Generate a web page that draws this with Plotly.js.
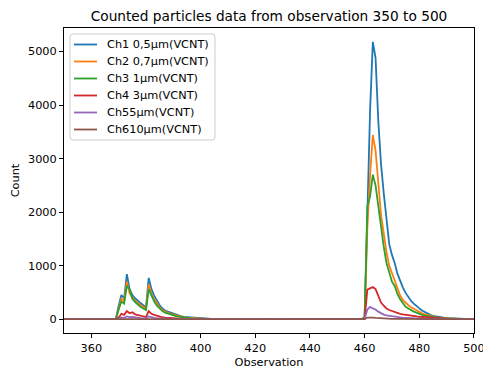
<!DOCTYPE html>
<html>
<head>
<meta charset="utf-8">
<script src="https://cdn.plot.ly/plotly-3.0.1.min.js"></script>
<style>html,body{margin:0;padding:0;background:#fff}#chart{width:483px;height:372px}</style>
</head>
<body>
<div id="chart"></div>
<script>
// Observation indices 350..500
const observations = [];
for (let k = 350; k <= 500; k++) observations.push(k);

const seriesNames = ["Ch1 0,5µm(VCNT)", "Ch2 0,7µm(VCNT)", "Ch3 1µm(VCNT)", "Ch4 3µm(VCNT)", "Ch55µm(VCNT)", "Ch610µm(VCNT)"];

const ch1 = [
  0,0,0,0,0,0,0,0,0,0,
  0,0,0,0,0,0,0,0,0,5,
  250,450,390,840,560,450,390,340,300,260,
  220,770,560,440,340,260,200,160,140,120,
  100,80,65,50,40,35,30,25,20,15,
  10,8,6,5,4,3,2,2,2,2,
  2,2,2,2,2,2,2,2,2,2,
  2,2,2,2,2,2,2,2,2,2,
  2,2,2,2,2,2,2,2,2,2,
  2,2,2,2,2,2,2,2,2,2,
  2,2,2,2,2,2,2,2,2,5,
  40,2000,3900,5180,4880,3700,2900,2350,1850,1400,
  1200,1050,850,710,590,490,410,340,290,240,
  200,160,130,100,80,62,50,40,32,26,
  20,16,13,10,8,6,5,4,3,3,
  2
];
const ch2 = [
  0,0,0,0,0,0,0,0,0,0,
  0,0,0,0,0,0,0,0,0,5,
  200,380,340,700,480,400,340,300,260,230,
  190,650,470,370,290,220,170,140,120,100,
  85,70,55,45,35,30,25,20,15,12,
  8,6,5,4,3,2,1,1,1,1,
  1,1,1,1,1,1,1,1,1,1,
  1,1,1,1,1,1,1,1,1,1,
  1,1,1,1,1,1,1,1,1,1,
  1,1,1,1,1,1,1,1,1,1,
  1,1,1,1,1,1,1,1,1,4,
  30,1700,2700,3440,3150,2500,1950,1600,1250,1000,
  850,740,560,440,360,300,260,220,190,165,
  140,110,90,75,60,48,38,30,25,20,
  15,12,10,8,6,5,4,3,2,2,
  1
];
const ch3 = [
  0,0,0,0,0,0,0,0,0,0,
  0,0,0,0,0,0,0,0,0,4,
  180,330,290,620,560,380,320,270,230,200,
  170,560,430,330,250,190,150,120,100,85,
  70,55,45,35,28,22,18,14,10,8,
  6,5,4,3,2,2,1,1,1,1,
  1,1,1,1,1,1,1,1,1,1,
  1,1,1,1,1,1,1,1,1,1,
  1,1,1,1,1,1,1,1,1,1,
  1,1,1,1,1,1,1,1,1,1,
  1,1,1,1,1,1,1,1,1,3,
  25,2100,2300,2700,2500,2100,1700,1350,1050,850,
  700,620,470,370,290,230,200,165,140,120,
  95,80,65,55,45,37,30,25,20,16,
  12,10,8,6,5,4,3,2,2,1,
  1
];
const ch4 = [
  0,0,0,0,0,0,0,0,0,0,
  0,0,0,0,0,0,0,0,0,2,
  30,100,80,150,110,130,90,80,60,50,
  40,150,100,80,60,45,35,30,25,20,
  15,12,10,8,6,5,4,3,3,2,
  2,1,1,1,1,1,0,0,0,0,
  0,0,0,0,0,0,0,0,0,0,
  0,0,0,0,0,0,0,0,0,0,
  0,0,0,0,0,0,0,0,0,0,
  0,0,0,0,0,0,0,0,0,0,
  0,0,0,0,0,0,0,0,0,2,
  10,550,580,600,560,420,310,250,200,170,
  150,130,110,100,90,80,70,62,55,50,
  45,40,35,30,26,22,18,15,12,10,
  8,6,5,4,3,3,2,2,1,1,
  1
];
const ch5 = [
  0,0,0,0,0,0,0,0,0,0,
  0,0,0,0,0,0,0,0,0,1,
  10,30,25,50,35,40,30,25,20,15,
  12,50,35,25,20,15,12,10,8,6,
  5,4,3,3,2,2,1,1,1,1,
  1,1,1,1,1,1,0,0,0,0,
  0,0,0,0,0,0,0,0,0,0,
  0,0,0,0,0,0,0,0,0,0,
  0,0,0,0,0,0,0,0,0,0,
  0,0,0,0,0,0,0,0,0,0,
  0,0,0,0,0,0,0,0,0,1,
  5,180,230,200,180,140,110,85,70,60,
  50,45,38,32,27,22,18,15,12,10,
  8,7,6,5,4,3,3,2,2,2,
  1,1,1,1,1,1,1,1,1,1,
  1
];
const ch6 = [
  0,0,0,0,0,0,0,0,0,0,
  0,0,0,0,0,0,0,0,0,0,
  3,8,6,12,9,10,7,6,5,4,
  3,12,8,6,5,4,3,2,2,1,
  1,1,1,1,1,1,0,0,0,0,
  0,0,0,0,0,0,0,0,0,0,
  0,0,0,0,0,0,0,0,0,0,
  0,0,0,0,0,0,0,0,0,0,
  0,0,0,0,0,0,0,0,0,0,
  0,0,0,0,0,0,0,0,0,0,
  0,0,0,0,0,0,0,0,0,0,
  2,30,35,30,25,20,15,12,10,8,
  6,5,4,3,3,2,2,2,1,1,
  1,1,1,1,1,1,1,1,1,1,
  1,0,0,0,0,0,0,0,0,0,
  0
];

const xTicks = [360, 380, 400, 420, 440, 460, 480, 500];
const yTicks = [0, 1000, 2000, 3000, 4000, 5000];

const allSeries = [ch1, ch2, ch3, ch4, ch5, ch6];
const colors = ["#1f77b4", "#ff7f0e", "#2ca02c", "#d62728", "#9467bd", "#8c564b"];

const traces = allSeries.map((vals, i) => ({
  x: observations,
  y: vals,
  type: "scatter",
  mode: "lines",
  name: seriesNames[i],
  showlegend: false,
  line: {color: colors[i], width: 1.8}
}));

// plot-area geometry (pixels) for the hand-built legend box
const W = 483, H = 372;
const M = {l: 64, r: 9, t: 28, b: 39};
const pw = W - M.l - M.r, ph = H - M.t - M.b;
const px = v => (v - M.l) / pw;
const py = v => (H - M.b - v) / ph;
const FS = 11.3;

const legBox = {x0: 70, x1: 215, y0: 34, y1: 140, r: 3};
const legRow0 = 44.5, legRowStep = 17, legLine = [74, 97], legText = 106;

function roundRectPath(b) {
  const x0 = px(b.x0), x1 = px(b.x1), y0 = py(b.y0), y1 = py(b.y1);
  const rx = b.r / pw, ry = b.r / ph;
  return `M ${x0 + rx},${y0} L ${x1 - rx},${y0} Q ${x1},${y0} ${x1},${y0 - ry} ` +
         `L ${x1},${y1 + ry} Q ${x1},${y1} ${x1 - rx},${y1} L ${x0 + rx},${y1} ` +
         `Q ${x0},${y1} ${x0},${y1 + ry} L ${x0},${y0 - ry} Q ${x0},${y0} ${x0 + rx},${y0} Z`;
}

const shapes = [{
  type: "path", xref: "paper", yref: "paper", layer: "above",
  path: roundRectPath(legBox),
  fillcolor: "rgba(255,255,255,0.8)",
  line: {color: "#cccccc", width: 1}
}];
const annotations = [];
seriesNames.forEach((name, i) => {
  const yy = legRow0 + i * legRowStep;
  shapes.push({
    type: "line", xref: "paper", yref: "paper", layer: "above",
    x0: px(legLine[0]), x1: px(legLine[1]), y0: py(yy), y1: py(yy),
    line: {color: colors[i], width: 1.8}
  });
  annotations.push({
    xref: "paper", yref: "paper", x: px(legText), y: py(yy),
    xanchor: "left", yanchor: "middle", showarrow: false,
    text: name, borderpad: 0,
    font: {family: "DejaVu Sans", size: FS, color: "#000"}
  });
});

const axisCommon = {
  showgrid: false,
  zeroline: false,
  showline: true,
  linecolor: "#000",
  linewidth: 1,
  mirror: true,
  ticks: "outside",
  ticklen: 4,
  tickwidth: 1,
  tickcolor: "#000",
  ticklabeloverflow: "allow",
  tickfont: {family: "DejaVu Sans", size: FS, color: "#000"}
};

const layout = {
  width: W,
  height: H,
  margin: M,
  paper_bgcolor: "#fff",
  plot_bgcolor: "#fff",
  font: {family: "DejaVu Sans", color: "#000"},
  title: {
    text: "Counted particles data from observation 350 to 500",
    font: {family: "DejaVu Sans", size: 13.7, color: "#000"},
    x: 0.5, xref: "paper", xanchor: "center",
    y: 1 - 16/372, yref: "container", yanchor: "middle"
  },
  xaxis: Object.assign({}, axisCommon, {
    range: [350, 500.02],
    tickvals: xTicks,
    ticktext: xTicks.map(String),
    title: {text: "Observation", font: {family: "DejaVu Sans", size: FS, color: "#000"}, standoff: 4}
  }),
  yaxis: Object.assign({}, axisCommon, {
    range: [-259, 5439],
    tickvals: yTicks,
    ticktext: yTicks.map(String),
    title: {text: "Count", font: {family: "DejaVu Sans", size: FS, color: "#000"}, standoff: 6}
  }),
  showlegend: false,
  shapes: shapes,
  annotations: annotations
};

Plotly.newPlot("chart", traces, layout, {displayModeBar: false, staticPlot: true});
</script>
</body>
</html>
